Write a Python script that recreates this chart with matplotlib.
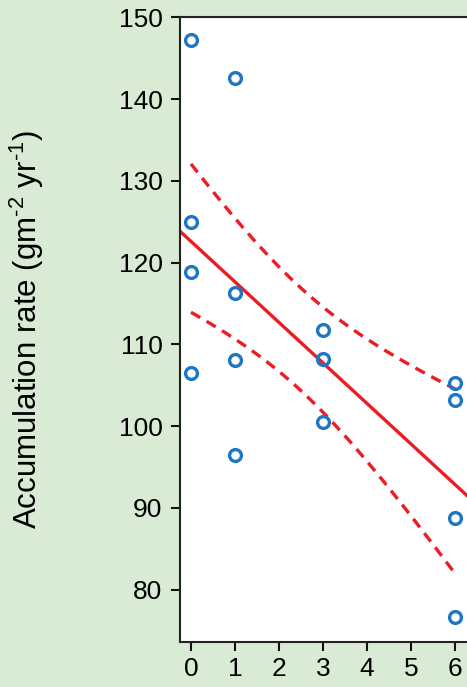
import matplotlib.pyplot as plt
import numpy as np

# distance class vs. accumulation rate
distance = [0, 0, 0, 0, 1, 1, 1, 1, 3, 3, 3, 6, 6, 6, 6]
accum_rate = [147.2, 125.0, 118.9, 106.5,
              142.6, 116.3, 108.1, 96.5,
              111.8, 108.2, 100.5,
              105.3, 103.2, 88.8, 76.6]
x_ticks = [0, 1, 2, 3, 4, 5, 6]
y_ticks = [80, 90, 100, 110, 120, 130, 140, 150]

plt.rcParams['font.family'] = ['Liberation Sans', 'DejaVu Sans']
plt.rcParams['mathtext.fontset'] = 'custom'
plt.rcParams['mathtext.rm'] = 'Liberation Sans'

x = np.array(distance, dtype=float)
y = np.array(accum_rate)

# least squares fit and confidence band of the mean
slope, intercept = np.polyfit(x, y, 1)
n = len(x)
resid = y - (slope * x + intercept)
s = np.sqrt(np.sum(resid ** 2) / (n - 2))
sxx = np.sum((x - x.mean()) ** 2)
t_val = 1.70

bg = '#d9ebd5'
red = '#ec1c24'
blue = '#1f77c4'

fig = plt.figure(figsize=(4.67, 6.87), dpi=100, facecolor=bg)
ax = fig.add_axes([0.3854, 0.0655, 0.6146, 0.9093])
ax.set_facecolor('white')

xlim = (-0.25, 6.27)
xl = np.linspace(xlim[0], xlim[1], 50)
ax.plot(xl, slope * xl + intercept, color=red, lw=2.4, zorder=2)

xb = np.linspace(0, 6, 100)
fit = slope * xb + intercept + 0.4
half = t_val * s * np.sqrt(1 / n + (xb - x.mean()) ** 2 / sxx)
ax.plot(xb, fit + half, color=red, lw=2.4, ls=(0, (3.2, 2.2)), zorder=2)
ax.plot(xb, fit - half, color=red, lw=2.4, ls=(0, (3.2, 2.2)), zorder=2)

ax.plot(x, y, 'o', mfc='none', mec=blue, mew=2.4, ms=8.5, zorder=3, clip_on=False)

ax.set_xlim(*xlim)
ax.set_ylim(73.6, 150)
ax.set_xticks(x_ticks)
ax.set_yticks(y_ticks)
ax.tick_params(axis='both', direction='out', length=6.5, width=1.5,
               labelsize=19, color='#111111')
ax.tick_params(axis='y', pad=6)
ax.tick_params(axis='x', pad=4)

for side in ['left', 'top', 'bottom']:
    ax.spines[side].set_color('#222222')
    ax.spines[side].set_linewidth(1.5)
ax.spines['right'].set_visible(False)

ax.set_ylabel(r'Accumulation rate (gm$^{\mathrm{\text{-}2}}$ yr$^{\mathrm{\text{-}1}}$)', fontsize=22.5)
ax.yaxis.set_label_coords(-0.468, 0.5)

fig.savefig('out.png', dpi=100, facecolor=bg)
